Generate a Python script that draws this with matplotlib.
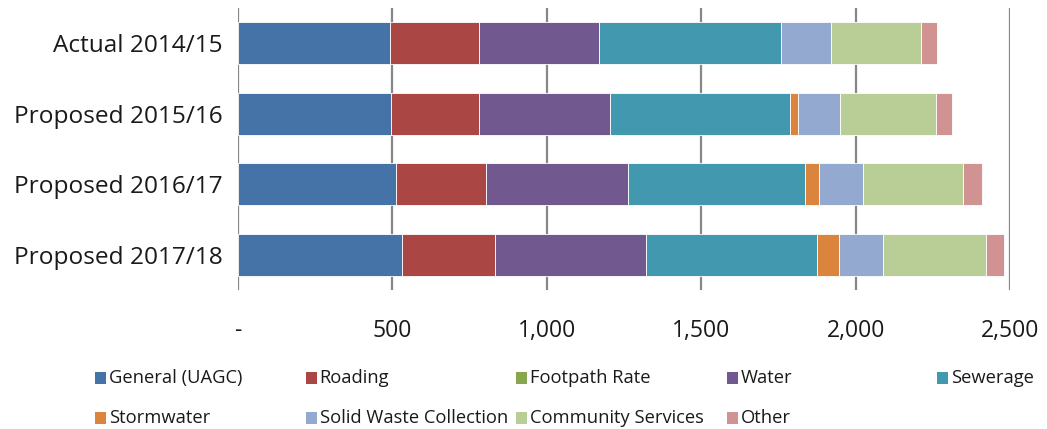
import matplotlib
matplotlib.use("Agg")
import matplotlib.pyplot as plt
from matplotlib.patches import Rectangle
from matplotlib.ticker import FuncFormatter
import numpy as np

plt.rcParams['font.family'] = ['Open Sans', 'DejaVu Sans']

categories = ["Actual 2014/15", "Proposed 2015/16", "Proposed 2016/17", "Proposed 2017/18"]
series_names = ["General (UAGC)", "Roading", "Footpath Rate", "Water", "Sewerage",
                "Stormwater", "Solid Waste Collection", "Community Services", "Other"]
general = [493, 495, 512, 532]
roading = [289, 287, 291, 299]
footpath = [0, 0, 0, 0]
water = [387, 424, 461, 490]
sewerage = [588, 581, 571, 554]
stormwater = [0, 25, 48, 71]
solid_waste = [162, 137, 141, 142]
community = [292, 310, 324, 333]
other = [51, 53, 60, 60]
series_values = [general, roading, footpath, water, sewerage,
                 stormwater, solid_waste, community, other]
colors = ["#4572A7", "#AA4643", "#89A54E", "#71588F", "#4198AF",
          "#DB843D", "#93A9CF", "#B9CD96", "#D09392"]
x_ticks = [0, 500, 1000, 1500, 2000, 2500]

fig = plt.figure(figsize=(10.47, 4.29), dpi=100)
ax = fig.add_axes([238 / 1047, 1 - 290 / 429, (1010 - 238) / 1047, (290 - 8) / 429])

y = np.arange(len(categories))
left = np.zeros(len(categories))
for vals, col in zip(series_values, colors):
    v = np.array(vals, dtype=float)
    ax.barh(y, v, left=left, height=0.6, color=col, edgecolor="white", linewidth=0.6)
    left += v

ax.set_ylim(len(categories) - 0.5, -0.5)
ax.set_xlim(0, 2500)
ax.set_yticks(y)
ax.set_yticklabels(categories, fontsize=17.6, color="#1a1a1a")
ax.set_xticks(x_ticks)
ax.xaxis.set_major_formatter(FuncFormatter(lambda v, p: "-" if v == 0 else f"{int(v):,}"))
ax.tick_params(axis="x", length=0, pad=21, labelsize=16.5, labelcolor="#1a1a1a")
ax.tick_params(axis="y", length=0, pad=11)
for s in ax.spines.values():
    s.set_visible(False)
ax.grid(axis="x", color="#878787", linewidth=1.6)
ax.set_axisbelow(True)

# legend: two rows of equally spaced entries
for i, (name, col) in enumerate(zip(series_names, colors)):
    r, c = divmod(i, 5)
    xpx = 95 + c * 210.5
    ypx = 378 + r * 40
    fig.patches.append(Rectangle((xpx / 1047, 1 - (ypx + 6) / 429), 11 / 1047, 12 / 429,
                                 transform=fig.transFigure, facecolor=col, edgecolor="none"))
    fig.text((xpx + 14) / 1047, 1 - ypx / 429, name, fontsize=13.2, color="#1a1a1a",
             va="center", ha="left")

fig.savefig("out.png", dpi=100)
